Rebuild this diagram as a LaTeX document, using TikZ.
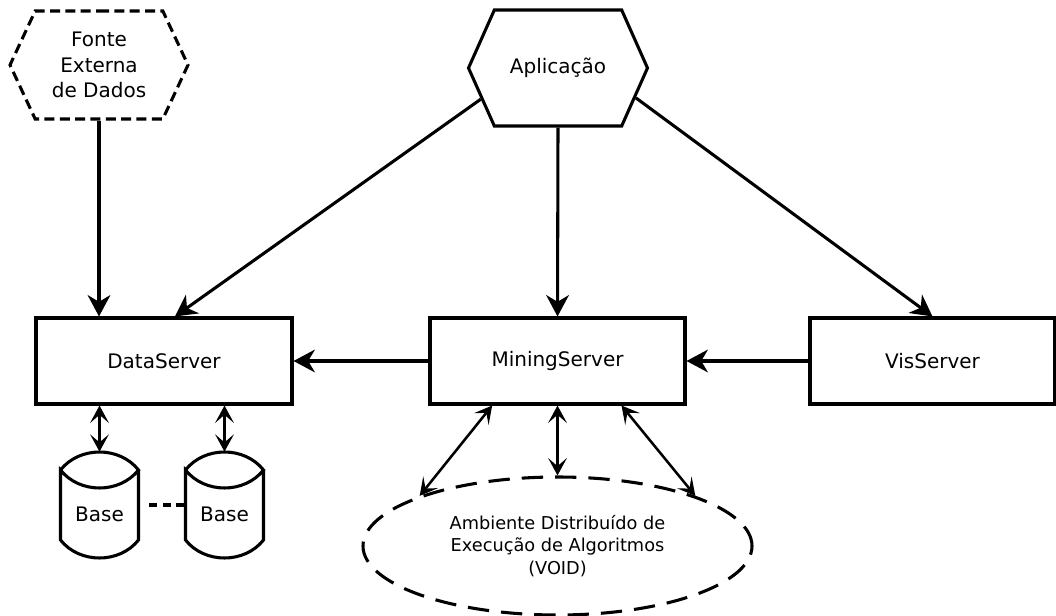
\documentclass[tikz,border=0pt]{standalone}
\usepackage{fontspec}
\setmainfont{DejaVu Sans}
\usetikzlibrary{shapes.geometric,shapes.symbols,arrows.meta}

\tikzset{
  box/.style={draw, line width=2.3pt, minimum width=192pt, minimum height=64.5pt},
  hexa/.style={draw, line width=2.3pt, signal, signal to=west and east,
    align=center, inner sep=0pt},
  arr/.style={line width=2.3pt, -{Stealth[length=16pt,width=17pt,inset=5pt]}},
  dbl/.style={line width=1.9pt, {Stealth[length=13pt,width=14pt,inset=6pt]}-{Stealth[length=13pt,width=14pt,inset=6pt]}},
  base/.style={minimum width=58.5pt, minimum height=93pt, inner sep=0pt}
}

% outline of a database around a named node
\newcommand{\baseoutline}[1]{%
  \begin{scope}[shift={(#1.center)}]
    \draw[line width=2.3pt] (-39,-44) .. controls (-20,-68) and (20,-68) .. (39,-44)
      .. controls (20,-20) and (-20,-20) .. (-39,-44) -- (-39,26)
      .. controls (-20,50) and (20,50) .. (39,26) -- (39,-44);
  \end{scope}}

\begin{document}
\begin{tikzpicture}[x=0.75pt, y=-0.75pt, font=\fontsize{15}{19}\selectfont]
  \useasboundingbox (0,0) rectangle (1056,616);

  % top row
  \node [hexa, dash pattern=on 7.5pt off 4pt, minimum width=133.5pt, minimum height=81pt,
    signal pointer angle=130] (fonte) at (99,65) {Fonte\\Externa\\de Dados};
  \node [hexa, minimum width=134.25pt, minimum height=87pt,
    signal pointer angle=132] (app) at (558,68) {Aplicação};

  % servers
  \node [box] (data) at (164,361) {DataServer};
  \node [box, minimum width=191.25pt] (mining) at (557.5,361) {MiningServer};
  \node [box, minimum width=183.75pt] (vis) at (932.5,361) {VisServer};

  % bases
  \node [base] (base1) at (99.5,514) {Base};
  \node [base] (base2) at (224.5,514) {Base};
  \baseoutline{base1}
  \baseoutline{base2}

  % void
  \node [ellipse, draw, line width=2.3pt, dash pattern=on 16pt off 9pt,
    minimum width=291.75pt, minimum height=103.5pt, align=center,
    font=\fontsize{13.3}{17}\selectfont] (void) at (557.5,546)
    {Ambiente Distribuído de\\Execução de Algoritmos\\(VOID)};

  % links
  \draw [arr] (fonte.south) -- (fonte.south |- data.north);
  \draw [arr] (app.202) -- ([xshift=8.25pt]data.north);
  \draw [arr] (app.south) -- (mining.north);
  \draw [arr] (app.339) -- (vis.north);
  \draw [arr] (mining.west) -- (data.east);
  \draw [arr] (vis.west) -- (mining.east);
  \draw [dbl] (data.south -| base1.north) -- (base1.north);
  \draw [dbl] (data.south -| base2.north) -- (base2.north);
  \draw [line width=2.3pt, dash pattern=on 6pt off 4pt, shorten <=8pt]
    ([yshift=6.75pt]base1.east) -- ([yshift=6.75pt]base2.west);
  \draw [dbl] ([xshift=-49pt]mining.south) -- (void.160);
  \draw [dbl] (mining.south) -- (void.north);
  \draw [dbl] ([xshift=48pt]mining.south) -- (void.20);
\end{tikzpicture}
\end{document}
